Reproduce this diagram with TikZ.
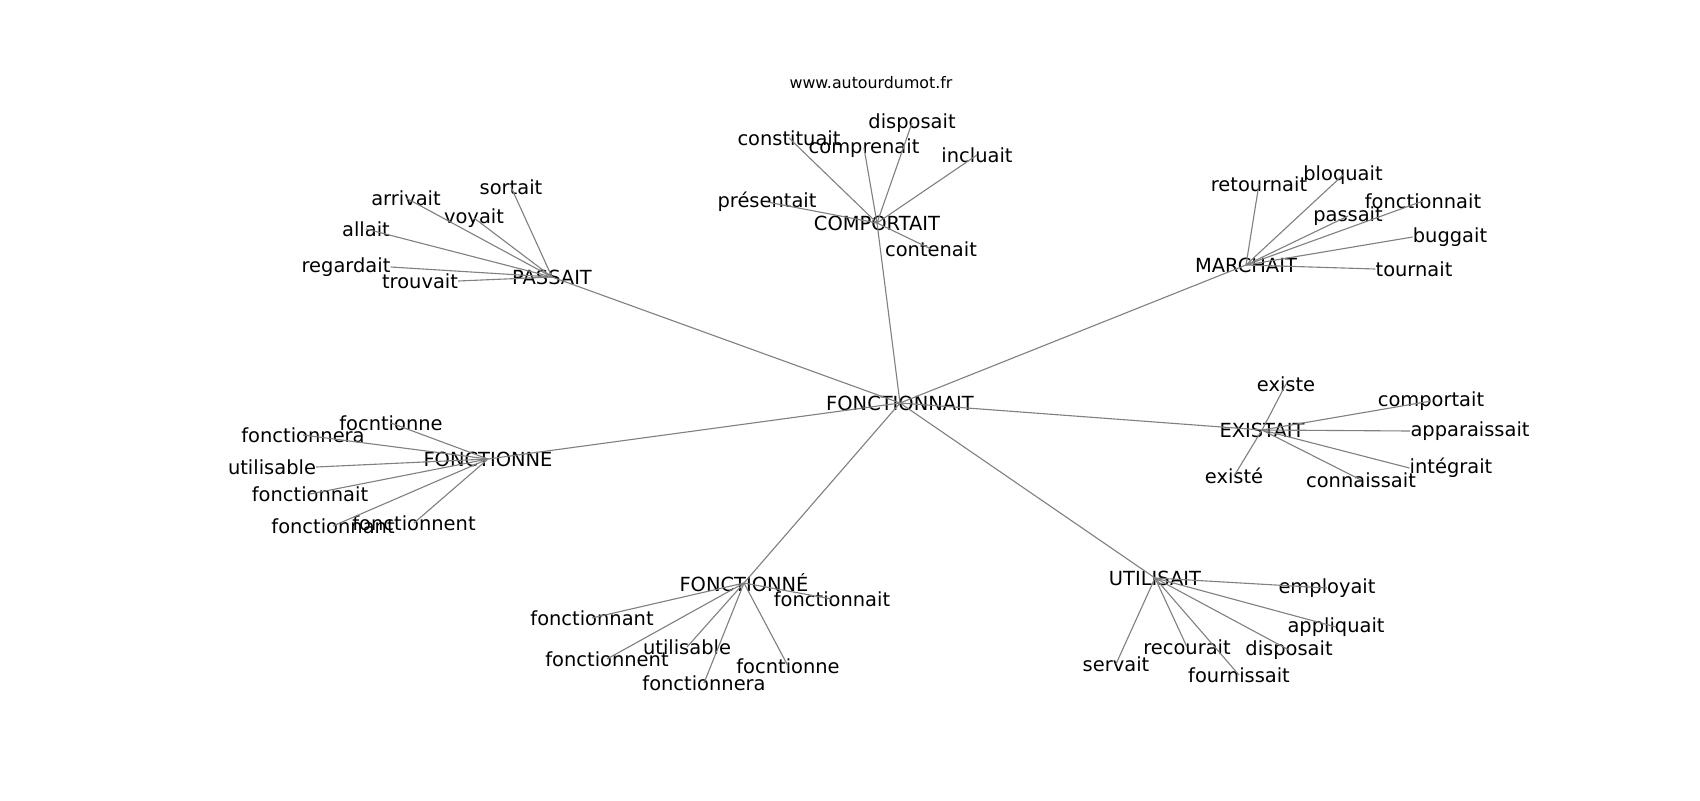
\documentclass[tikz,border=0pt]{standalone}
\usepackage{fontspec}
\setmainfont{DejaVu Sans}

\begin{document}
\begin{tikzpicture}[x=0.72pt,y=-0.72pt,
        word/.style={inner sep=0pt,font=\fontsize{14}{16}\selectfont},
        link/.style={draw=gray,line width=0.8pt}]
    \useasboundingbox (0,0) rectangle (1700,800);
    \node[font=\fontsize{11.4}{13}\selectfont] at (871,83) (site) {www.autourdumot.fr};
    % centre and hubs
    \node[word] at (900,403) (root) {FONCTIONNAIT};
    \node[word] at (552,277) (pa) {PASSAIT};
    \node[word] at (877,223) (co) {COMPORTAIT};
    \node[word] at (1246,265) (ma) {MARCHAIT};
    \node[word] at (1262,430) (ex) {EXISTAIT};
    \node[word] at (488,459) (fe) {FONCTIONNE};
    \node[word] at (744,583) (fa) {FONCTIONNÉ};
    \node[word] at (1155,578) (ut) {UTILISAIT};
    % PASSAIT
    \node[word] at (511,187) (pa-sortait) {sortait};
    \node[word] at (406,198) (pa-arrivait) {arrivait};
    \node[word] at (474,218) (pa-voyait) {voyait};
    \node[word] at (366,229) (pa-allait) {allait};
    \node[word] at (346,267) (pa-regardait) {regardait};
    \node[word] at (420,281) (pa-trouvait) {trouvait};
    % COMPORTAIT
    \node[word] at (789,138) (co-constituait) {constituait};
    \node[word] at (864,148) (co-comprenait) {comprenait};
    \node[word] at (912,123) (co-disposait) {disposait};
    \node[word] at (977,155) (co-incluait) {incluait};
    \node[word] at (767,202) (co-presentait) {présentait};
    \node[word] at (931,249) (co-contenait) {contenait};
    % MARCHAIT
    \node[word] at (1259,184) (ma-retournait) {retournait};
    \node[word] at (1343,175) (ma-bloquait) {bloquait};
    \node[word] at (1423,201) (ma-fonctionnait) {fonctionnait};
    \node[word] at (1348,216) (ma-passait) {passait};
    \node[word] at (1450,237) (ma-buggait) {buggait};
    \node[word] at (1414,269) (ma-tournait) {tournait};
    % EXISTAIT
    \node[word] at (1286,384) (ex-existe) {existe};
    \node[word] at (1431,401) (ex-comportait) {comportait};
    \node[word] at (1470,431) (ex-apparaissait) {apparaissait};
    \node[word] at (1451,468) (ex-integrait) {intégrait};
    \node[word] at (1361,480) (ex-connaissait) {connaissait};
    \node[word] at (1234,476) (ex-existe2) {existé};
    % FONCTIONNE
    \node[word] at (391,423) (fe-focntionne) {focntionne};
    \node[word] at (303,435) (fe-fonctionnera) {fonctionnera};
    \node[word] at (272,467) (fe-utilisable) {utilisable};
    \node[word] at (310,494) (fe-fonctionnait) {fonctionnait};
    \node[word] at (333,526) (fe-fonctionnant) {fonctionnant};
    \node[word] at (414,523) (fe-fonctionnent) {fonctionnent};
    % FONCTIONNÉ
    \node[word] at (832,599) (fa-fonctionnait) {fonctionnait};
    \node[word] at (592,618) (fa-fonctionnant) {fonctionnant};
    \node[word] at (607,659) (fa-fonctionnent) {fonctionnent};
    \node[word] at (687,647) (fa-utilisable) {utilisable};
    \node[word] at (704,683) (fa-fonctionnera) {fonctionnera};
    \node[word] at (788,666) (fa-focntionne) {focntionne};
    % UTILISAIT
    \node[word] at (1327,588) (ut-employait) {employait};
    \node[word] at (1336,627) (ut-appliquait) {appliquait};
    \node[word] at (1289,650) (ut-disposait) {disposait};
    \node[word] at (1239,675) (ut-fournissait) {fournissait};
    \node[word] at (1187,647) (ut-recourait) {recourait};
    \node[word] at (1116,664) (ut-servait) {servait};
    % links
    \foreach \h in {pa,co,ma,ex,fe,fa,ut}
        \draw[link] (root.center) -- (\h.center);
    \foreach \w/\a in {sortait/center,arrivait/center,voyait/center,allait/center,regardait/east,trouvait/east}
        \draw[link] (pa.center) -- (pa-\w.\a);
    \foreach \w in {constituait,comprenait,disposait,incluait,presentait,contenait}
        \draw[link] (co.center) -- (co-\w.center);
    \foreach \w/\a in {retournait/center,bloquait/center,fonctionnait/center,passait/center,buggait/west,tournait/west}
        \draw[link] (ma.center) -- (ma-\w.\a);
    \foreach \w/\a in {existe/center,comportait/center,apparaissait/west,integrait/west,connaissait/center,existe2/center}
        \draw[link] (ex.center) -- (ex-\w.\a);
    \foreach \w/\a in {focntionne/center,fonctionnera/center,utilisable/east,fonctionnait/center,fonctionnant/center,fonctionnent/center}
        \draw[link] (fe.center) -- (fe-\w.\a);
    \foreach \w in {fonctionnait,fonctionnant,fonctionnent,utilisable,fonctionnera,focntionne}
        \draw[link] (fa.center) -- (fa-\w.center);
    \foreach \w in {employait,appliquait,disposait,fournissait,recourait,servait}
        \draw[link] (ut.center) -- (ut-\w.center);
\end{tikzpicture}
\end{document}
